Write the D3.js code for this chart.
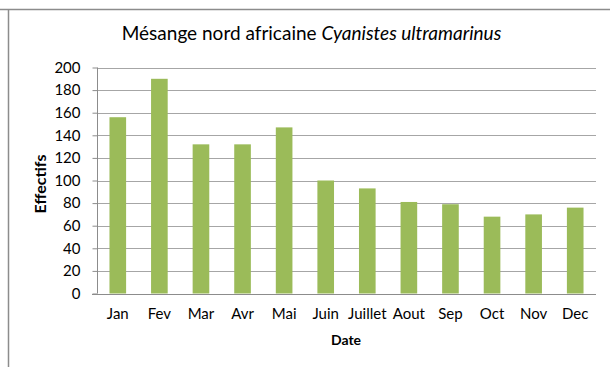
<!DOCTYPE html>
<html>
<head>
<meta charset="utf-8">
<script src="https://cdn.jsdelivr.net/npm/d3@7"></script>
<style>
  html, body { margin: 0; padding: 0; background: #fff; }
  svg { display: block; }
  text { font-family: Lato, "Open Sans", sans-serif; fill: #000; }
</style>
</head>
<body>
<svg id="chart" width="610" height="367"></svg>
<script>
// Monthly counts of the African blue tit
const months = ["Jan", "Fev", "Mar", "Avr", "Mai", "Juin", "Juillet", "Aout", "Sep", "Oct", "Nov", "Dec"];
const effectifs = [156, 190, 132, 132, 147, 100, 93, 81, 79, 68, 70, 76];
const yTicks = [0, 20, 40, 60, 80, 100, 120, 140, 160, 180, 200];

const svg = d3.select("#chart");
const W = 610, H = 367;
const plot = { left: 97, right: 596, top: 67.5, bottom: 293.5 };

// Frame lines of the chart area
svg.append("line").attr("x1", 0).attr("x2", W).attr("y1", 9.5).attr("y2", 9.5)
  .attr("stroke", "#8c8c8c").attr("stroke-width", 1.5);
svg.append("line").attr("x1", 8.5).attr("x2", 8.5).attr("y1", 9).attr("y2", H)
  .attr("stroke", "#8c8c8c").attr("stroke-width", 1.5);

const x = d3.scaleBand().domain(months).range([plot.left, plot.right]).paddingInner(0.6).paddingOuter(0.3);
const y = d3.scaleLinear().domain([0, 200]).range([plot.bottom, plot.top]);

// Horizontal gridlines
svg.append("g").selectAll("line").data(yTicks.slice(1)).join("line")
  .attr("x1", plot.left).attr("x2", plot.right)
  .attr("y1", d => Math.round(y(d)) + 0.5).attr("y2", d => Math.round(y(d)) + 0.5)
  .attr("stroke", "#a6a6a6").attr("stroke-width", 1);

// Y axis with ticks pointing outward
const yAxis = svg.append("g").attr("transform", `translate(${plot.left + 0.5},0)`)
  .call(d3.axisLeft(y).tickValues(yTicks).tickSize(5).tickPadding(12).tickFormat(d3.format("d")));
yAxis.select(".domain").attr("stroke", "#8c8c8c").attr("d", `M0,${plot.top}V${plot.bottom}`);
yAxis.selectAll(".tick line").attr("stroke", "#8c8c8c");
yAxis.selectAll(".tick text").attr("font-size", 15).attr("font-family", "Lato, sans-serif").attr("fill", "#000");

// Bars
svg.append("g").selectAll("rect").data(effectifs).join("rect")
  .attr("x", (d, i) => x(months[i]))
  .attr("width", x.bandwidth())
  .attr("y", d => y(d))
  .attr("height", d => y(0) - y(d))
  .attr("fill", "#9bbb59");

// X axis baseline and labels
const xAxis = svg.append("g").attr("transform", `translate(0,${Math.round(plot.bottom) + 0.5})`)
  .call(d3.axisBottom(x).tickSize(0).tickPadding(14));
xAxis.select(".domain").attr("stroke", "#8c8c8c").attr("d", `M${plot.left - 5},0H${plot.right}`);
xAxis.selectAll(".tick text").attr("font-size", 15).attr("font-family", "Lato, sans-serif").attr("fill", "#000");

// Title
const title = svg.append("text").attr("x", 311.5).attr("y", 40).attr("text-anchor", "middle").attr("font-size", 19);
title.append("tspan").text("Mésange nord africaine ");
title.append("tspan").attr("font-style", "italic").text("Cyanistes ultramarinus");

// Axis titles
svg.append("text").attr("x", 346).attr("y", 345).attr("text-anchor", "middle")
  .attr("font-size", 14).attr("font-weight", "bold").text("Date");
svg.append("text").attr("transform", "translate(46,184) rotate(-90)").attr("text-anchor", "middle")
  .attr("font-size", 16).attr("font-weight", "bold").text("Effectifs");
</script>
</body>
</html>
